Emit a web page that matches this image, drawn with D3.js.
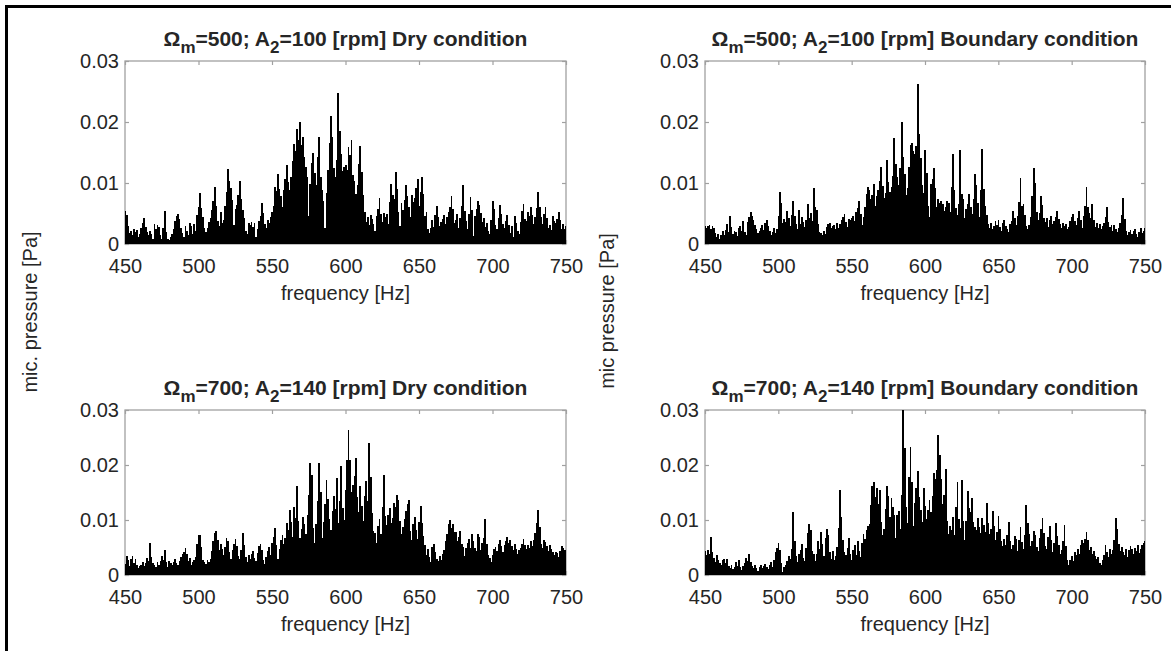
<!DOCTYPE html>
<html>
<head>
<meta charset="utf-8">
<script src="https://cdn.jsdelivr.net/npm/d3@7"></script>
<style>
  body { margin: 0; background: #fff; }
  text { font-family: "Liberation Sans", Arial, sans-serif; fill: #262626; }
</style>
</head>
<body>
<svg id="chart" width="1171" height="651"></svg>
<script>
// spectra, 1 Hz bins from 450 to 750 Hz, values in mPa
var freqStart = 450
var freqStep = 1

var dryLow = [
  5.4, 4.8, 3.0, 1.8, 2.2, 1.5, 2.4, 1.9, 2.3, 1.2,
  1.6, 2.6, 3.4, 4.3, 2.8, 1.9, 1.4, 2.2, 1.6, 0.9,
  3.2, 2.5, 3.1, 2.8, 1.4, 0.9, 2.6, 5.4, 2.0, 0.8,
  0.6, 1.1, 1.7, 2.4, 3.8, 4.6, 5.0, 4.1, 2.6, 1.8,
  1.2, 3.0, 2.2, 1.5, 3.5, 2.9, 1.6, 3.2, 2.1, 4.8,
  6.1, 8.3, 5.9, 4.4, 2.6, 1.9, 2.7, 3.6, 4.2, 5.6,
  7.1, 9.3, 6.2, 3.8, 2.9, 5.2, 3.4, 4.0, 6.3, 8.6,
  12.3, 10.4, 9.1, 7.2, 3.1, 5.8, 6.4, 8.1, 10.3, 7.4,
  5.6, 4.3, 2.2, 1.6, 3.5, 3.1, 3.6, 2.8, 3.4, 1.1,
  2.4, 3.8, 4.6, 6.8, 5.1, 3.2, 2.6, 4.0, 3.4, 4.4,
  5.2, 6.3, 9.4, 8.7, 11.5, 9.0, 7.8, 6.0, 8.9, 10.6,
  12.9, 10.1, 8.8, 11.0, 13.6, 16.4, 15.2, 18.9, 17.1, 20.0,
  16.3, 17.5, 14.2, 12.6, 11.0, 4.6, 9.8, 13.2, 15.0, 11.6,
  9.7, 14.3, 17.6, 11.0, 8.9, 7.0, 2.7, 8.4, 12.1, 16.5,
  21.0, 17.5, 12.4, 11.0, 13.8, 24.7, 18.6, 14.8, 11.9, 12.6,
  13.0, 12.2, 15.9, 14.6, 17.0, 11.3, 10.4, 8.2, 9.6, 13.1,
  16.0, 11.8, 8.0, 5.2, 3.6, 4.4, 3.1, 4.8, 4.1, 3.3,
  2.1, 4.6, 5.8, 7.5, 4.9, 3.6, 5.1, 4.4, 5.0, 3.2,
  6.9, 9.8, 8.1, 7.4, 11.8, 9.0, 5.3, 2.9, 6.8, 5.6,
  7.2, 9.6, 7.8, 6.1, 4.5, 8.0, 6.9, 7.6, 9.2, 10.7,
  6.3, 8.6, 11.0, 8.2, 4.6, 5.2, 2.4, 1.8, 2.6, 3.9,
  2.8, 4.7, 6.3, 4.4, 2.9, 3.6, 4.1, 4.8, 3.3, 4.5,
  5.2, 6.1, 7.9, 5.8, 3.4, 4.0, 5.0, 2.6, 4.3, 6.2,
  9.6, 5.4, 3.8, 2.4, 4.9, 7.7, 5.6, 1.3, 4.6, 5.8,
  7.0, 6.4, 5.1, 3.6, 4.3, 2.8, 3.4, 2.1, 1.6, 3.9,
  7.0, 5.8, 3.1, 2.4, 4.2, 6.4, 4.9, 3.3, 2.6, 3.8,
  4.8, 3.1, 1.8, 2.9, 1.2, 4.6, 3.5, 2.2, 1.7, 3.6,
  5.4, 6.5, 4.1, 3.7, 5.2, 4.6, 6.0, 4.8, 3.3, 4.4,
  5.9, 8.5, 6.1, 4.4, 3.2, 4.9, 6.0, 4.2, 2.7, 3.1,
  2.3, 4.6, 3.8, 3.5, 4.1, 5.3, 4.0, 2.5, 3.2, 2.4,
  3.0
]

var boundaryLow = [
  3.0, 2.6, 2.9, 3.1, 2.4, 3.0, 2.7, 1.8, 1.2, 1.6,
  0.9, 1.4, 2.1, 1.5, 2.3, 3.2, 2.0, 4.6, 2.8, 1.6,
  2.2, 1.9, 1.3, 2.6, 3.0, 2.2, 3.8, 1.9, 1.4, 3.6,
  4.4, 5.2, 4.6, 4.0, 3.1, 2.4, 1.8, 2.2, 2.7, 3.1,
  2.3, 3.4, 4.0, 2.9, 2.2, 1.5, 2.0, 2.6, 1.8, 2.5,
  4.6, 8.5, 6.7, 3.4, 4.1, 3.6, 5.4, 4.2, 2.9, 4.8,
  7.1, 4.6, 3.3, 2.5, 5.5, 3.2, 4.4, 3.6, 2.8, 4.0,
  6.6, 4.3, 5.1, 3.7, 9.2, 6.1, 5.6, 3.2, 2.0, 1.8,
  1.4, 2.2, 1.7, 2.8, 3.3, 3.5, 2.6, 2.9, 3.1, 2.4,
  3.5, 2.7, 3.2, 3.9, 4.4, 4.9, 3.6, 2.8, 4.1, 3.9,
  4.2, 4.6, 3.8, 5.3, 5.9, 7.1, 5.0, 3.1, 4.5, 6.0,
  8.2, 9.4, 8.9, 7.4, 8.1, 9.8, 6.3, 7.8, 8.9, 10.4,
  12.7, 9.5, 7.6, 8.3, 13.8, 10.1, 8.6, 9.4, 11.2, 17.4,
  13.1, 11.0, 9.6, 12.4, 20.0, 14.3, 11.5, 8.0, 9.1, 12.6,
  16.2, 16.5, 15.3, 14.8, 16.0, 26.3, 18.0, 14.1, 9.7, 8.4,
  15.4, 11.6, 6.2, 4.5, 9.8, 10.7, 12.5, 9.1, 6.0, 7.3,
  6.8, 7.0, 6.6, 5.4, 6.1, 7.0, 6.7, 5.2, 9.3, 14.7,
  8.8, 5.9, 4.7, 6.5, 15.4, 8.2, 7.3, 4.2, 5.8, 6.6,
  8.2, 6.1, 4.9, 7.4, 11.5, 9.6, 6.8, 4.5, 8.9, 15.6,
  9.0, 6.3, 4.7, 3.2, 2.6, 3.5, 2.4, 2.9, 3.7, 3.1,
  3.9, 2.8, 2.1, 3.4, 3.9, 3.0, 2.5, 2.0, 3.2, 3.8,
  5.4, 4.2, 3.1, 4.6, 6.9, 10.9, 6.2, 6.5, 4.8, 2.9,
  2.4, 3.1, 4.4, 7.8, 12.5, 10.0, 5.3, 3.9, 5.1, 7.9,
  6.4, 4.3, 3.6, 4.2, 2.8, 3.9, 4.6, 3.3, 3.8, 4.5,
  5.4, 4.1, 3.2, 2.7, 3.5, 2.9, 3.3, 2.4, 2.8, 3.7,
  4.4, 4.9, 3.8, 3.1, 4.2, 5.4, 3.9, 2.7, 4.6, 6.2,
  9.4, 6.0, 5.1, 4.2, 6.5, 3.9, 2.8, 3.4, 2.6, 3.2,
  2.4, 2.9, 3.5, 4.4, 6.1, 3.6, 2.8, 3.1, 2.2, 3.1,
  2.5, 2.0, 2.7, 3.4, 4.8, 7.6, 4.1, 2.2, 1.5, 1.9,
  2.3, 1.6, 2.1, 2.4, 1.7, 1.2, 1.9, 2.6, 1.8, 2.1,
  2.6
]

var dryHigh = [
  2.0, 3.5, 2.8, 1.6, 2.9, 3.4, 2.2, 3.0, 1.8, 1.2,
  1.6, 1.9, 2.4, 1.7, 2.2, 3.1, 2.6, 5.8, 3.3, 2.1,
  1.8, 1.4, 2.3, 1.9, 2.5, 3.4, 2.7, 4.6, 2.4, 1.5,
  2.6, 2.2, 1.8, 2.4, 2.9, 2.2, 1.9, 2.6, 3.3, 3.8,
  4.2, 5.0, 3.9, 2.6, 3.1, 1.9, 2.4, 2.8, 3.3, 5.6,
  7.2, 7.2, 5.1, 2.8, 2.4, 2.0, 2.7, 2.3, 3.0, 4.4,
  6.2, 7.6, 8.0, 6.3, 4.5, 5.6, 4.8, 3.6, 5.1, 6.7,
  6.1, 4.2, 3.0, 4.6, 5.7, 6.6, 5.2, 3.4, 2.9, 4.5,
  7.7, 5.4, 3.3, 2.4, 3.6, 2.9, 3.8, 4.3, 3.1, 2.6,
  4.0, 5.2, 5.6, 4.6, 2.7, 2.0, 3.3, 4.4, 5.1, 3.6,
  5.8, 7.0, 8.5, 5.4, 2.9, 4.8, 6.3, 7.2, 5.6, 6.8,
  9.4, 8.2, 11.8, 9.6, 7.0, 12.4, 10.3, 16.2, 9.8, 6.7,
  8.4, 10.6, 9.2, 7.5, 11.0, 14.6, 20.4, 18.2, 8.6, 5.9,
  9.3, 13.4, 20.4, 15.1, 6.8, 9.7, 12.9, 17.2, 13.8, 10.1,
  8.2, 11.6, 14.3, 12.0, 17.6, 9.4, 13.5, 19.8, 12.1, 10.0,
  15.4, 21.0, 26.4, 21.0, 15.1, 16.3, 18.0, 21.3, 14.2, 11.5,
  16.1, 12.6, 9.8, 14.4, 17.1, 13.4, 24.0, 17.8, 11.2, 8.0,
  7.6, 5.8, 8.9, 10.2, 7.4, 12.3, 18.2, 10.8, 9.1, 11.0,
  12.2, 9.4, 10.3, 13.1, 12.4, 14.5, 13.6, 9.8, 7.4, 8.8,
  10.1, 11.7, 13.0, 13.6, 8.0, 6.4, 9.2, 10.5, 8.1, 6.6,
  9.7, 12.5, 9.4, 7.1, 5.5, 3.6, 4.8, 3.3, 2.4, 5.1,
  5.6, 4.2, 3.0, 2.6, 3.5, 2.7, 3.8, 4.6, 6.1, 7.4,
  9.2, 10.0, 8.6, 9.3, 7.8, 7.9, 6.2, 7.0, 8.0, 5.6,
  5.1, 3.5, 4.9, 5.8, 6.6, 4.9, 7.5, 6.1, 5.0, 4.4,
  7.5, 6.9, 4.6, 5.9, 6.8, 10.2, 5.7, 3.7, 3.1, 2.4,
  3.6, 4.8, 5.1, 4.4, 5.6, 6.3, 5.2, 4.1, 5.5, 6.2,
  6.9, 5.8, 6.4, 5.3, 4.6, 5.6, 4.7, 3.8, 4.5, 5.0,
  5.7, 6.6, 5.4, 4.8, 5.5, 4.9, 6.1, 5.2, 6.3, 7.6,
  9.4, 11.8, 8.8, 5.7, 4.9, 6.4, 6.0, 5.2, 4.4, 5.4,
  4.8, 4.1, 3.7, 4.2, 4.0, 3.3, 4.4, 5.3, 5.0, 4.6,
  3.8
]

var boundaryHigh = [
  4.3, 3.6, 4.5, 3.8, 7.0, 4.2, 3.1, 2.4, 3.6, 2.8,
  2.2, 1.9, 2.7, 3.0, 2.1, 2.9, 1.6, 1.2, 1.8, 1.1,
  1.5, 2.3, 1.7, 2.8, 1.4, 0.9, 1.6, 2.2, 3.1, 2.6,
  3.8, 2.4, 1.6, 1.2, 1.8, 1.3, 0.8, 1.5, 1.9, 1.2,
  1.6, 2.0, 1.4, 1.1, 1.8, 2.4, 1.5, 2.8, 4.1, 4.9,
  5.8, 4.6, 2.2, 0.6, 1.4, 1.9, 2.6, 3.4, 2.9, 4.8,
  11.4, 6.2, 3.5, 2.4, 3.8, 4.6, 5.7, 3.1, 2.6, 4.9,
  7.6, 9.3, 8.1, 4.4, 3.9, 2.5, 3.8, 6.2, 4.8, 7.9,
  5.6, 3.4, 6.7, 8.3, 7.2, 4.1, 3.0, 4.4, 2.7, 3.5,
  5.1, 8.6, 15.4, 10.6, 6.3, 4.2, 3.6, 5.0, 6.8, 3.9,
  2.8, 4.6, 5.4, 3.7, 6.1, 4.4, 3.3, 5.8, 7.4, 6.5,
  8.2, 9.0, 9.3, 12.8, 16.1, 16.9, 14.2, 15.8, 13.0, 15.5,
  9.7, 7.2, 8.4, 12.0, 16.1, 14.4, 10.6, 14.0, 12.3, 11.0,
  6.8, 10.9, 11.6, 8.3, 14.6, 30.0, 23.1, 12.4, 9.5, 17.8,
  23.3, 16.9, 9.0, 13.1, 15.9, 18.9, 14.2, 11.8, 9.6, 15.8,
  12.5, 10.2, 11.9, 13.6, 11.4, 14.3, 18.6, 17.4, 19.1, 25.4,
  21.9, 17.5, 13.0, 14.6, 19.3, 9.8, 7.4, 8.9, 8.1, 10.6,
  7.2, 12.4, 16.9, 10.1, 8.5, 17.2, 9.9, 6.4, 9.8, 15.2,
  12.1, 11.4, 14.0, 9.6, 8.7, 8.2, 10.4, 8.8, 7.6, 10.3,
  9.1, 7.8, 13.1, 9.4, 7.5, 8.3, 11.7, 9.0, 6.4, 7.9,
  10.8, 8.4, 6.1, 5.2, 6.6, 5.5, 7.3, 9.6, 6.2, 4.8,
  5.4, 7.1, 6.5, 4.3, 6.4, 8.7, 6.0, 4.8, 7.2, 12.8,
  9.4, 7.4, 5.3, 6.1, 8.0, 7.2, 5.1, 4.4, 6.8, 8.3,
  10.3, 7.6, 5.2, 4.7, 6.9, 9.0, 6.3, 4.2, 5.8, 9.4,
  7.1, 5.5, 3.9, 4.6, 6.2, 9.1, 5.3, 2.8, 1.9, 2.7,
  3.4, 2.6, 4.1, 3.6, 4.7, 3.9, 5.4, 6.4, 5.8, 6.6,
  7.9, 6.3, 4.6, 5.1, 3.8, 4.4, 3.5, 2.9, 3.3, 2.2,
  1.9, 2.7, 3.6, 5.5, 4.1, 3.2, 4.8, 3.9, 4.6, 6.3,
  10.3, 8.4, 5.6, 4.4, 5.1, 4.2, 3.6, 4.8, 3.3, 4.6,
  5.2, 4.7, 3.9, 4.9, 4.3, 5.4, 4.0, 4.8, 5.5, 5.8,
  6.1
]

var xTicks = [450, 500, 550, 600, 650, 700, 750]
var yTicks = [0, 0.01, 0.02, 0.03]
var omegaM = [500, 500, 700, 700]
var ampA2 = [100, 100, 140, 140]
var conditions = ["Dry", "Boundary", "Dry", "Boundary"]
var yLabels = ["mic. pressure [Pa]", "mic pressure [Pa]"]

var series = [dryLow, boundaryLow, dryHigh, boundaryHigh]
var boxes = [
  { left: 125, right: 566, top: 61, bottom: 244 },
  { left: 705, right: 1145, top: 61, bottom: 244 },
  { left: 125, right: 566, top: 410, bottom: 575 },
  { left: 705, right: 1145, top: 410, bottom: 575 }
]

var svg = d3.select("#chart")

// outer frame of the figure
svg.append("rect")
  .attr("x", 6.5).attr("y", 6.5)
  .attr("width", 1180).attr("height", 660)
  .attr("fill", "none")
  .attr("stroke", "#000")
  .attr("stroke-width", 3)

function drawPanel(i) {
  var box = boxes[i]
  var values = series[i]
  var g = svg.append("g")

  var x = d3.scaleLinear().domain([450, 750]).range([box.left, box.right])
  var y = d3.scaleLinear().domain([0, 0.03]).range([box.bottom, box.top])
  var w = x(freqStart + freqStep) - x(freqStart)

  g.append("clipPath").attr("id", "clip" + i)
    .append("rect")
    .attr("x", box.left).attr("y", box.top)
    .attr("width", box.right - box.left).attr("height", box.bottom - box.top)

  // box + ticks first, data on top (matlab default layer)
  g.append("rect")
    .attr("x", box.left).attr("y", box.top)
    .attr("width", box.right - box.left).attr("height", box.bottom - box.top)
    .attr("fill", "#fff")
    .attr("stroke", "#a0a0a0")
    .attr("stroke-width", 1.3)

  var tickColor = "#a0a0a0"
  var axB = g.append("g").attr("transform", "translate(0," + box.bottom + ")")
    .call(d3.axisBottom(x).tickValues(xTicks).tickSize(-4).tickPadding(8))
  var axT = g.append("g").attr("transform", "translate(0," + box.top + ")")
    .call(d3.axisTop(x).tickValues(xTicks).tickSize(-4).tickFormat(""))
  var axL = g.append("g").attr("transform", "translate(" + box.left + ",0)")
    .call(d3.axisLeft(y).tickValues(yTicks).tickSize(-4).tickPadding(8)
      .tickFormat(function(d) { return d === 0 ? "0" : d.toFixed(2) }))
  var axR = g.append("g").attr("transform", "translate(" + box.right + ",0)")
    .call(d3.axisRight(y).tickValues(yTicks).tickSize(-4).tickFormat(""))

  ;[axB, axT, axL, axR].forEach(function(a) {
    a.select(".domain").remove()
    a.selectAll("line").attr("stroke", tickColor).attr("stroke-width", 1.2)
    a.selectAll("text")
      .style("font-family", '"Liberation Sans", Arial, sans-serif')
      .style("font-size", "20px")
      .attr("fill", "#262626")
  })
  axB.selectAll("text").attr("y", 15).attr("dy", "0.71em")
  axL.selectAll("text").attr("x", -6)

  g.append("g").attr("clip-path", "url(#clip" + i + ")")
    .attr("shape-rendering", "crispEdges")
    .selectAll("rect")
    .data(values)
    .enter().append("rect")
    .attr("x", function(d, k) { return x(freqStart + k * freqStep) - w / 2 })
    .attr("y", function(d) { return y(d / 1000) })
    .attr("width", w + 0.3)
    .attr("height", function(d) { return y(0) - y(d / 1000) })
    .attr("fill", "#000")

  // x label
  g.append("text")
    .attr("x", (box.left + box.right) / 2)
    .attr("y", box.bottom + 56)
    .attr("text-anchor", "middle")
    .style("font-size", "20px")
    .text("frequency [Hz]")

  // title with subscripts
  var t = g.append("text")
    .attr("x", (box.left + box.right) / 2)
    .attr("y", box.top - 15)
    .attr("text-anchor", "middle")
    .style("font-size", "21px")
    .style("font-weight", "bold")
  t.append("tspan").text("\u03A9")
  t.append("tspan").attr("dy", 7).style("font-size", "17px").text("m")
  t.append("tspan").attr("dy", -7).text("=" + omegaM[i] + "; A")
  t.append("tspan").attr("dy", 7).style("font-size", "17px").text("2")
  t.append("tspan").attr("dy", -7).text("=" + ampA2[i] + " [rpm] " + conditions[i] + " condition")
}

for (var i = 0; i < 4; i++) drawPanel(i)

// shared y labels
svg.append("text")
  .attr("transform", "translate(37,312) rotate(-90)")
  .attr("text-anchor", "middle")
  .style("font-size", "20px")
  .text(yLabels[0])
svg.append("text")
  .attr("transform", "translate(614,311) rotate(-90)")
  .attr("text-anchor", "middle")
  .style("font-size", "20px")
  .text(yLabels[1])
</script>
</body>
</html>
